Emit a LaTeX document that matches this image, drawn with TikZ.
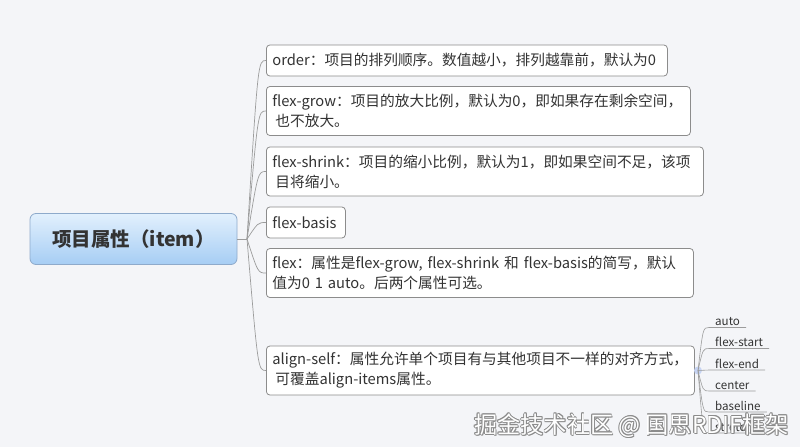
\documentclass[tikz,border=0pt]{standalone}
\usepackage{fontspec}
\setmainfont{Noto Sans CJK SC}
\definecolor{bg}{HTML}{F4F5F8}
\definecolor{boxline}{HTML}{8C8C8C}
\definecolor{connc}{HTML}{9C9C9C}
\definecolor{txt}{HTML}{333333}
\definecolor{roottop}{HTML}{E2F0FD}
\definecolor{rootbot}{HTML}{A6CDF4}
\definecolor{rootline}{HTML}{8EAACB}
\definecolor{dotc}{HTML}{C6D3F2}
\begin{document}
\begin{tikzpicture}[x=1pt,y=-1pt,
  box/.style={draw=boxline, fill=white, rounded corners=3.5pt, line width=0.8pt, anchor=west, align=left, inner xsep=6pt, inner ysep=3pt, font=\fontsize{14.7}{20}\selectfont, text=txt},
  one/.style={minimum height=31pt},
  two/.style={minimum height=49pt},
  conn/.style={draw=connc, line width=0.7pt},
  subitem/.style={anchor=south west, inner xsep=6pt, inner ysep=1.5pt, font=\fontsize{11.6}{13}\selectfont, text=txt},
  rootbox/.style={draw=rootline, top color=roottop, bottom color=rootbot, rounded corners=6pt, line width=0.8pt, minimum width=207pt, minimum height=51pt, font=\fontsize{19.5}{22}\selectfont\bfseries, text=txt, inner sep=0pt}]
\fill[bg] (0,0) rectangle (800,447);
\useasboundingbox (0,0) rectangle (800,447);

\node[rootbox] (root) at (133.5,239) {项目属性（item）};
\coordinate (J) at (247,239);

\node[box,one,text width=389pt] (order) at (266,60.5) {order：项目的排列顺序。数值越小，排列越靠前，默认为0};
\node[box,two,text width=412pt] (grow) at (266,111) {flex-grow：项目的放大比例，默认为0，即如果存在剩余空间，\\\hspace{3pt}也不放大。};
\node[box,two,text width=425pt] (shrink) at (266,171.5) {flex-shrink：项目的缩小比例，默认为1，即如果空间不足，该项\\\hspace{3pt}目将缩小。};
\node[box,one,text width=67pt] (basis) at (266,222.5) {flex-basis};
\node[box,two,text width=415pt] (flex) at (266,273) {flex：属性是flex-grow, flex-shrink 和 flex-basis的简写，默认\\值为0 1 auto。后两个属性可选。};
\node[box,two,text width=416pt] (self) at (266,370.5) {align-self：属性允许单个项目有与其他项目不一样的对齐方式，\\\hspace{3pt}可覆盖align-items属性。};

\draw[conn] (root.east) -- (J);
\foreach \n in {order,grow,shrink,basis,flex,self}{
  \draw[conn] (J) .. controls ([xshift=-8pt]\n.west) .. (\n.west);
}

\fill[dotc] (698,370.5) circle (4pt);
\coordinate (D) at (698,370.5);

\node[subitem] (s1) at (709,327.5) {auto};
\node[subitem] (s2) at (709,348.5) {flex-start};
\node[subitem] (s3) at (709,370) {flex-end};
\node[subitem] (s4) at (709,391) {center};
\node[subitem] (s5) at (709,412) {baseline};
\node[subitem] (s6) at (709,433) {stretch};
\foreach \n in {s1,s2,s3,s4,s5,s6}{
  \draw[conn, line width=0.6pt] (D) .. controls ([xshift=-6pt]\n.south west) .. (\n.south west) -- (\n.south east);
}

% watermark
\foreach \dx/\dy in {0.7/0,-0.7/0,0/0.7,0/-0.7,0.9/0.9,-0.5/0.5,0.5/-0.5,-0.5/-0.5}{
  \node[anchor=west, inner sep=0pt, font=\fontsize{23.2}{25}\selectfont, text=black!45] at (474+\dx,425.5+\dy) {掘金技术社区 @ 国思RDIF框架};
}
\node[anchor=west, inner sep=0pt, font=\fontsize{23.2}{25}\selectfont, text=white] (wm) at (474,425.5) {掘金技术社区 @ 国思RDIF框架};
\end{tikzpicture}
\end{document}
